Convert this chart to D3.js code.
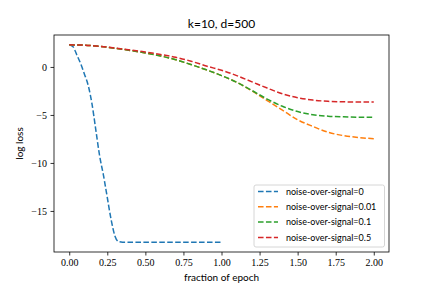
<!DOCTYPE html>
<html><head><meta charset="utf-8">
<script src="https://cdn.jsdelivr.net/npm/d3@7"></script>
<style>body{margin:0;background:#fff}</style>
</head><body>
<script>
const title = "k=10, d=500";
const xLabel = "fraction of epoch";
const yLabel = "log loss";
const xTicks = [0, 0.25, 0.5, 0.75, 1.0, 1.25, 1.5, 1.75, 2.0];
const yTicks = [0, -5, -10, -15];

const seriesNames = ["noise-over-signal=0", "noise-over-signal=0.01", "noise-over-signal=0.1", "noise-over-signal=0.5"];
const seriesColors = ["#1f77b4", "#ff7f0e", "#2ca02c", "#d62728"];

const xBlue = [0, 0.025, 0.05, 0.075, 0.1, 0.125, 0.15, 0.175, 0.2, 0.225, 0.25, 0.275, 0.3, 0.325, 0.35, 0.5, 0.75, 1.0];
const yBlue = [2.3, 2.1, 1.25, 0.35, -0.75, -1.95, -3.9, -6.6, -9.3, -11.3, -13.6, -15.9, -17.6, -18.2, -18.25, -18.25, -18.25, -18.25];

const xLong = [0, 0.1, 0.2, 0.3, 0.4, 0.5, 0.6, 0.7, 0.8, 0.9, 1.0, 1.1, 1.2, 1.3, 1.4, 1.5, 1.6, 1.7, 1.8, 1.9, 2.0];
const yOrange = [2.3, 2.27, 2.15, 1.95, 1.72, 1.45, 1.15, 0.75, 0.25, -0.3, -0.9, -1.6, -2.5, -3.5, -4.5, -5.5, -6.2, -6.8, -7.15, -7.35, -7.48];
const yGreen  = [2.3, 2.27, 2.15, 1.95, 1.72, 1.45, 1.15, 0.75, 0.25, -0.3, -0.9, -1.6, -2.45, -3.35, -4.1, -4.65, -4.98, -5.13, -5.2, -5.24, -5.25];
const yRed    = [2.3, 2.27, 2.15, 1.97, 1.77, 1.55, 1.3, 1.0, 0.6, 0.1, -0.35, -0.9, -1.55, -2.2, -2.8, -3.2, -3.45, -3.58, -3.63, -3.65, -3.65];

const W = 432, H = 288;
const M = {left: 54, right: 389, top: 35, bottom: 252};

const series = [
  {name: seriesNames[0], color: seriesColors[0], pts: xBlue.map((x, i) => [x, yBlue[i]])},
  {name: seriesNames[1], color: seriesColors[1], pts: xLong.map((x, i) => [x, yOrange[i]])},
  {name: seriesNames[2], color: seriesColors[2], pts: xLong.map((x, i) => [x, yGreen[i]])},
  {name: seriesNames[3], color: seriesColors[3], pts: xLong.map((x, i) => [x, yRed[i]])},
];

const allX = series.flatMap(s => s.pts.map(p => p[0]));
const allY = series.flatMap(s => s.pts.map(p => p[1]));
const [x0, x1] = d3.extent(allX), [y0, y1] = d3.extent(allY);
const px = (x1 - x0) * 0.05, py = (y1 - y0) * 0.05;

const x = d3.scaleLinear().domain([x0 - px, x1 + px]).range([M.left, M.right]);
const y = d3.scaleLinear().domain([y0 - py, y1 + py]).range([M.bottom, M.top]);

const svg = d3.select("body").append("svg").attr("width", W).attr("height", H);

const serif = "'Liberation Serif', 'DejaVu Serif', serif";
const sans = "Lato, 'DejaVu Sans', sans-serif";

const line = d3.line().x(d => x(d[0])).y(d => y(d[1])).curve(d3.curveMonotoneX);
svg.append("defs").append("clipPath").attr("id", "clip")
  .append("rect").attr("x", M.left).attr("y", M.top).attr("width", M.right - M.left).attr("height", M.bottom - M.top);

const g = svg.append("g").attr("clip-path", "url(#clip)");
series.forEach(s => {
  g.append("path").datum(s.pts).attr("d", line)
    .attr("fill", "none").attr("stroke", s.color).attr("stroke-width", 1.5)
    .attr("stroke-dasharray", "5.55,2.4");
});

// axes
const xAxis = d3.axisBottom(x).tickValues(xTicks).tickFormat(d3.format(".2f")).tickSize(3.5).tickPadding(3.5);
const yAxis = d3.axisLeft(y).tickValues(yTicks).tickFormat(d => d < 0 ? "\u2212" + Math.abs(d) : String(d)).tickSize(3.5).tickPadding(3.5);

const gx = svg.append("g").attr("transform", `translate(0,${M.bottom})`).call(xAxis);
const gy = svg.append("g").attr("transform", `translate(${M.left},0)`).call(yAxis);
[gx, gy].forEach(a => {
  a.select(".domain").remove();
  a.selectAll(".tick line").attr("stroke", "#000").attr("stroke-width", 0.8);
  a.selectAll(".tick text").attr("font-family", serif).attr("font-size", 10).attr("fill", "#000");
});

// frame
svg.append("rect").attr("x", M.left).attr("y", M.top).attr("width", M.right - M.left).attr("height", M.bottom - M.top)
  .attr("fill", "none").attr("stroke", "#000").attr("stroke-width", 0.8);

// labels
svg.append("text").attr("x", (M.left + M.right) / 2).attr("y", 28).attr("text-anchor", "middle")
  .attr("font-family", sans).attr("font-size", 12).text(title);
svg.append("text").attr("x", (M.left + M.right) / 2).attr("y", 281).attr("text-anchor", "middle")
  .attr("font-family", sans).attr("font-size", 10).text(xLabel);
svg.append("text").attr("transform", `translate(23,${(M.top + M.bottom) / 2}) rotate(-90)`).attr("text-anchor", "middle")
  .attr("font-family", sans).attr("font-size", 10).text(yLabel);

// legend
const lg = svg.append("g");
lg.append("rect").attr("x", 254).attr("y", 185).attr("width", 130.5).attr("height", 62).attr("rx", 2)
  .attr("fill", "#fff").attr("fill-opacity", 0.8).attr("stroke", "#cccccc").attr("stroke-width", 0.8);
series.forEach((s, i) => {
  const cy = 191.5 + i * 15.3;
  lg.append("line").attr("x1", 258).attr("x2", 278).attr("y1", cy).attr("y2", cy)
    .attr("stroke", s.color).attr("stroke-width", 1.5).attr("stroke-dasharray", "5.55,2.4");
  lg.append("text").attr("x", 286).attr("y", cy + 3.3).attr("font-family", sans).attr("font-size", 9).text(s.name);
});
</script>
</body></html>
